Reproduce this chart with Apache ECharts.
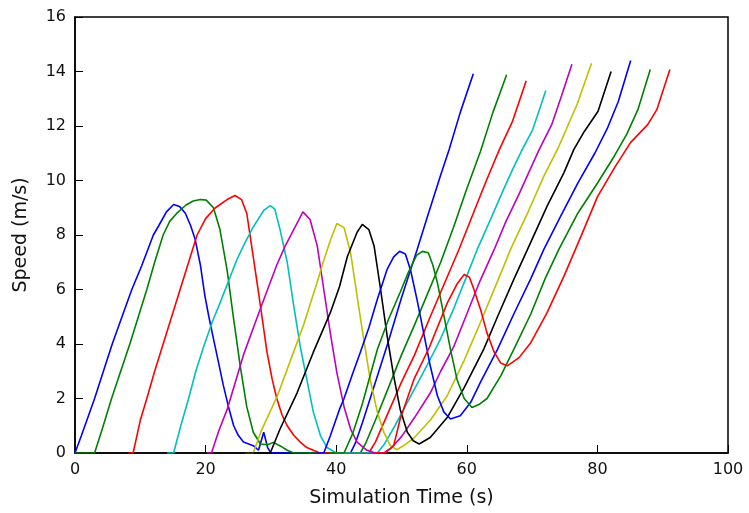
<!DOCTYPE html>
<html>
<head>
<meta charset="utf-8">
<script src="https://cdn.jsdelivr.net/npm/echarts@6/dist/echarts.min.js"></script>
<style>
html,body{margin:0;padding:0;background:#fff;}
#chart{width:749px;height:513px;}
</style>
</head>
<body>
<div id="chart"></div>
<script>
// Each run: [simulation time (s), speed (m/s)]
var run1 = [[0,0],[1,0.65],[3,2.0],[5.7,4.0],[8.7,6.0],[10.2,6.86],[12,8.0],[12.8,8.33],[14,8.85],[15.1,9.12],[16,9.05],[16.9,8.8],[17.7,8.35],[18.4,7.84],[19.2,6.9],[19.9,5.76],[20.5,5.0],[21.2,4.2],[22,3.3],[22.7,2.5],[23.5,1.7],[24.3,1.0],[25,0.65],[25.8,0.4],[27.3,0.27],[28.1,0.1],[28.9,0.76],[29.5,0.2],[30,0],[42.2,0],[43,0.4],[44,1.1],[46,2.6],[48,4.1],[50,5.7],[52.4,7.47],[54,8.7],[56,10.2],[57.3,11.14],[59,12.5],[61,13.92]];
var run2 = [[0,0],[3.0,0],[4.2,0.9],[5.6,2.0],[7,3.0],[8.4,4.0],[9.7,5.0],[11,6.0],[12.2,7.0],[13.5,8.0],[14.5,8.5],[15.6,8.8],[17,9.1],[18.1,9.25],[19.2,9.3],[20.1,9.28],[21.2,9.0],[22.2,8.2],[23.3,6.7],[24.3,4.9],[25.3,3.2],[26.3,1.7],[27.3,0.76],[28.4,0.33],[29.5,0.3],[30.4,0.39],[31.5,0.25],[32.5,0.1],[33.5,0],[43.7,0],[44.5,0.35],[46,1.2],[48,2.4],[50,3.6],[52,4.7],[54,5.85],[56,7.0],[58,8.3],[60,9.7],[62.1,11.07],[64,12.5],[66.1,13.88]];
var run3 = [[8.2,0],[8.9,0],[10,1.2],[11,2.0],[12.2,3.0],[13.5,4.0],[14.8,5.0],[16.1,6.0],[17.4,7.0],[18.7,8.0],[20,8.6],[21.5,9.0],[23.3,9.3],[24.5,9.45],[25.5,9.3],[26.3,8.8],[27.3,7.2],[28.4,5.4],[29.4,3.7],[30.2,2.7],[30.9,2.0],[31.7,1.4],[32.5,1.0],[33.5,0.65],[34.5,0.4],[35.5,0.2],[36.5,0.1],[37.5,0],[45,0],[46,0.4],[48,1.5],[50,2.6],[52,3.6],[54.4,5.0],[56,5.9],[58.8,7.47],[61,8.8],[63,10.0],[65,11.14],[67,12.17],[69.1,13.66]];
var run4 = [[14.1,0],[15.1,0],[16.2,1.0],[17.4,2.0],[18.5,3.0],[19.7,3.9],[21,4.8],[22.2,5.5],[23.5,6.3],[24.8,7.1],[26,7.7],[27.3,8.3],[28.9,8.9],[29.9,9.08],[30.6,8.95],[31.4,8.2],[32.5,7.0],[33.5,5.4],[34.5,3.9],[35.5,2.7],[36.5,1.5],[37.6,0.63],[38.6,0.2],[40,0],[46.3,0],[47.3,0.3],[49,1.0],[51,1.9],[53,2.8],[54.4,3.44],[56,4.2],[58,5.3],[60,6.5],[61.6,7.47],[63.5,8.5],[65.5,9.6],[67,10.4],[68.5,11.14],[70.1,11.87],[72.1,13.3]];
var run5 = [[20.2,0],[20.9,0],[22,0.8],[23.3,1.6],[25.8,3.6],[28.4,5.3],[30.9,6.9],[32.2,7.6],[33.5,8.2],[34.9,8.85],[36.0,8.57],[37.1,7.6],[38.1,6.0],[39.1,4.4],[40.1,2.95],[41.2,1.7],[42.2,0.88],[43.2,0.4],[44.7,0.1],[46,0],[47.3,0],[48.5,0.2],[50,0.6],[52,1.3],[54.4,2.2],[56,3.0],[58,3.9],[60,5.1],[62,6.3],[64.2,7.47],[66,8.5],[68,9.5],[69.5,10.3],[71.1,11.14],[73.0,12.05],[74.5,13.1],[76.1,14.27]];
var run6 = [[26.0,0],[27.3,0],[28.5,0.8],[31,2.1],[33,3.4],[35,4.7],[37,6.2],[38,7.0],[39.1,7.8],[40.1,8.42],[41.2,8.27],[42.2,7.35],[43.2,5.76],[44.2,4.2],[45.2,2.7],[46.3,1.5],[47.3,0.76],[48.3,0.27],[49.3,0.12],[50.5,0.3],[51.9,0.55],[54.4,1.2],[57,2.1],[59.6,3.4],[62.1,4.8],[64.7,6.3],[66.7,7.47],[69.3,8.8],[71.8,10.16],[74.0,11.2],[76.9,12.8],[79.1,14.3]];
var run7 = [[25.8,0],[29.9,0],[31.4,0.88],[34.0,2.2],[36.5,3.7],[39.1,5.15],[40.5,6.1],[41.7,7.2],[43.2,8.1],[44.0,8.39],[45,8.2],[45.8,7.6],[46.8,6.0],[47.8,4.3],[48.8,2.83],[49.8,1.6],[50.9,0.76],[51.8,0.45],[52.7,0.33],[54.4,0.57],[57,1.3],[59.6,2.4],[62.6,3.81],[64.7,5.0],[67.2,6.37],[69.3,7.47],[72.3,9.06],[74.9,10.3],[76.4,11.14],[78,11.8],[80.1,12.54],[82.1,14.0]];
var run8 = [[37,0],[38.1,0],[39.1,0.63],[40.5,1.6],[41.2,2.0],[42.5,2.9],[43.7,3.7],[45,4.6],[46.3,5.64],[47.8,6.74],[48.8,7.2],[49.7,7.4],[50.6,7.3],[51.4,6.7],[52.4,5.6],[53.4,4.4],[54.4,3.2],[55.5,2.1],[56.5,1.5],[57.5,1.25],[59.0,1.37],[60.6,1.86],[62.1,2.6],[64.7,3.8],[67.2,5.1],[69.8,6.4],[71.8,7.47],[74.4,8.7],[77.0,9.9],[79.6,11.0],[81.5,11.9],[83.2,12.9],[85.1,14.4]];
var run9 = [[39,0],[41.2,0],[42.5,0.7],[44,1.8],[46.3,3.8],[48,4.9],[49.8,5.9],[51,6.6],[52.3,7.25],[53.2,7.4],[54.1,7.35],[54.8,6.9],[55.5,6.25],[56.5,5.03],[57.5,3.8],[58.5,2.7],[59.6,2.0],[60.8,1.67],[62,1.8],[63.1,2.0],[65.2,2.83],[67.2,3.8],[69.8,5.1],[72,6.4],[74.1,7.47],[77,8.8],[80,9.9],[82.6,10.9],[84.5,11.7],[86.2,12.6],[88.1,14.07]];
var run10 = [[46,0],[47.5,0],[48.8,0.27],[49.8,1.25],[51.9,2.7],[54.3,3.9],[57,5.5],[58.5,6.2],[59.6,6.55],[60.4,6.45],[61.1,6.0],[62.1,5.27],[63.1,4.4],[64.2,3.7],[65.2,3.3],[66.2,3.2],[68,3.5],[69.8,4.05],[72.3,5.15],[74.9,6.5],[77.5,7.96],[80.0,9.4],[82.7,10.5],[85.1,11.4],[87.7,12.05],[89.1,12.6],[91.1,14.07]];

var runs = [run1, run2, run3, run4, run5, run6, run7, run8, run9, run10];
var runColors = ['#0000ff','#008000','#ff0000','#00bfbf','#bf00bf','#bfbf00','#000000','#0000ff','#008000','#ff0000'];
var xTicks = [0, 20, 40, 60, 80, 100];
var yTicks = [0, 2, 4, 6, 8, 10, 12, 14, 16];
var xName = 'Simulation Time (s)';
var yName = 'Speed (m/s)';

var chart = echarts.init(document.getElementById('chart'), null, {renderer: 'canvas'});
var font = 'DejaVu Sans';
var option = {
  animation: false,
  backgroundColor: '#ffffff',
  grid: {left: 75, right: 21, top: 17, bottom: 59, show: true, borderColor: '#000', borderWidth: 1.5, backgroundColor: 'transparent'},
  xAxis: {
    type: 'value', min: xTicks[0], max: xTicks[xTicks.length - 1], interval: xTicks[1] - xTicks[0],
    name: xName, nameLocation: 'middle', nameGap: 36,
    nameTextStyle: {fontFamily: font, fontSize: 19, color: '#111'},
    axisLine: {show: true, onZero: false, lineStyle: {color: '#000', width: 1.5}},
    axisTick: {show: true, inside: true, length: 8, lineStyle: {color: '#000', width: 1}},
    axisLabel: {fontFamily: font, fontSize: 16, color: '#111', margin: 9},
    splitLine: {show: false}
  },
  yAxis: {
    type: 'value', min: yTicks[0], max: yTicks[yTicks.length - 1], interval: yTicks[1] - yTicks[0],
    name: yName, nameLocation: 'middle', nameGap: 44,
    nameTextStyle: {fontFamily: font, fontSize: 19, color: '#111'},
    axisLine: {show: true, onZero: false, lineStyle: {color: '#000', width: 1.5}},
    axisTick: {show: true, inside: true, length: 8, lineStyle: {color: '#000', width: 1}},
    axisLabel: {fontFamily: font, fontSize: 16, color: '#111', margin: 9},
    splitLine: {show: false}
  },
  series: runs.map(function (d, i) {
    return {
      type: 'line', data: d, showSymbol: false, symbol: 'none', smooth: false,
      lineStyle: {color: runColors[i], width: 1.6}, itemStyle: {color: runColors[i]},
      z: 2 + i
    };
  })
};
chart.setOption(option);
</script>
</body>
</html>
